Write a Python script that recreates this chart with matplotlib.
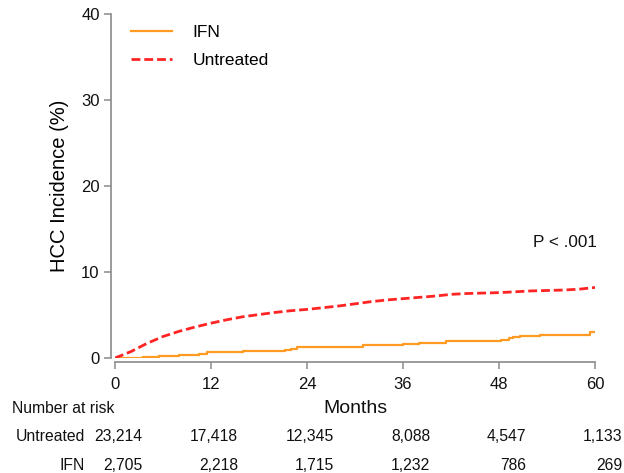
import numpy as np
import matplotlib.pyplot as plt
import matplotlib.transforms as mtransforms

plt.rcParams['font.family'] = ['Liberation Sans', 'DejaVu Sans']

# Cumulative HCC incidence (%)
untr_months = [0, 2, 4, 6, 8, 10, 12, 14, 16, 18, 20, 22, 24, 26, 28, 30, 32, 34, 36,
               38, 40, 42, 44, 46, 48, 50, 52, 54, 56, 58, 60]
untr_inc = [0.0, 0.75, 1.7, 2.5, 3.1, 3.6, 4.05, 4.45, 4.8, 5.05, 5.3, 5.5, 5.65, 5.85,
            6.05, 6.3, 6.55, 6.75, 6.9, 7.05, 7.2, 7.4, 7.5, 7.55, 7.6, 7.7, 7.8, 7.85,
            7.9, 8.0, 8.2]

ifn_months = [0, 3.5, 5.5, 8, 10.5, 11.5, 16, 19, 21.3, 22, 22.8, 31, 36, 38, 41.4,
              48.3, 49.2, 49.8, 50.6, 53.1, 59.4, 60.2]
ifn_inc = [0.0, 0.1, 0.27, 0.4, 0.5, 0.7, 0.8, 0.85, 0.9, 1.1, 1.3, 1.47, 1.6, 1.8, 1.93,
           2.1, 2.36, 2.5, 2.56, 2.7, 3.0, 3.0]

# Number at risk table
risk_months = [0, 12, 24, 36, 48, 60]
risk_untreated = ['23,214', '17,418', '12,345', '8,088', '4,547', '1,133']
risk_ifn = ['2,705', '2,218', '1,715', '1,232', '786', '269']

W, H = 624, 473
fig = plt.figure(figsize=(W / 100, H / 100), dpi=100)
ax = fig.add_axes([115 / W, 1 - 358 / H, 480 / W, 344 / H])

ax.step(ifn_months, ifn_inc, where='post', color='#FF9A22', lw=1.6, label='IFN')
ax.plot(untr_months, untr_inc, color='#FF2424', lw=2.0, dashes=(3.2, 1.4), label='Untreated')

ax.set_xlim(0, 60)
ax.set_ylim(0, 40)
ax.set_xticks(risk_months)
ax.set_yticks([0, 10, 20, 30, 40])

for s in ['top', 'right']:
    ax.spines[s].set_visible(False)
ax.spines['left'].set_position(('outward', 3))
ax.spines['bottom'].set_position(('outward', 3))
ax.spines['left'].set_bounds(0, 40)
ax.spines['bottom'].set_bounds(0, 60)
for s in ['left', 'bottom']:
    ax.spines[s].set_color('#8a8a8a')
    ax.spines[s].set_linewidth(1.2)
ax.tick_params(colors='#8a8a8a', labelcolor='#111111', length=5, width=1.1,
               labelsize=12, pad=3)
ax.tick_params(axis='x', pad=6)

ax.set_ylabel('HCC Incidence (%)', fontsize=14.5, labelpad=9)

leg = ax.legend(loc='upper left', bbox_to_anchor=(131 / W, 1 - 25 / H),
                bbox_transform=fig.transFigure, frameon=False, borderpad=0,
                borderaxespad=0, fontsize=12.5, handlelength=2.35,
                handletextpad=1.2, labelspacing=0.72)

ax.text(60.2, 13.4, 'P < .001', ha='right', va='center', fontsize=12.3, color='#111111')

# risk table below the axis
tr = mtransforms.blended_transform_factory(ax.transData, fig.transFigure)
fig.text(12 / W, 1 - 408 / H, 'Number at risk', ha='left', va='center',
         fontsize=11.3, color='#111111')
fig.text(355 / W, 1 - 408 / H, 'Months', ha='center', va='center',
         fontsize=14, color='#111111')
fig.text(85 / W, 1 - 436 / H, 'Untreated', ha='right', va='center', fontsize=11.3,
         color='#111111')
fig.text(85 / W, 1 - 465 / H, 'IFN', ha='right', va='center', fontsize=11.3,
         color='#111111')
for m, u, i in zip(risk_months, risk_untreated, risk_ifn):
    ax.text(m + 3.4, 1 - 436 / H, u, ha='right', va='center', fontsize=11.3,
            color='#111111', transform=tr, clip_on=False)
    ax.text(m + 3.4, 1 - 465 / H, i, ha='right', va='center', fontsize=11.3,
            color='#111111', transform=tr, clip_on=False)

fig.savefig('out.png', dpi=100)
